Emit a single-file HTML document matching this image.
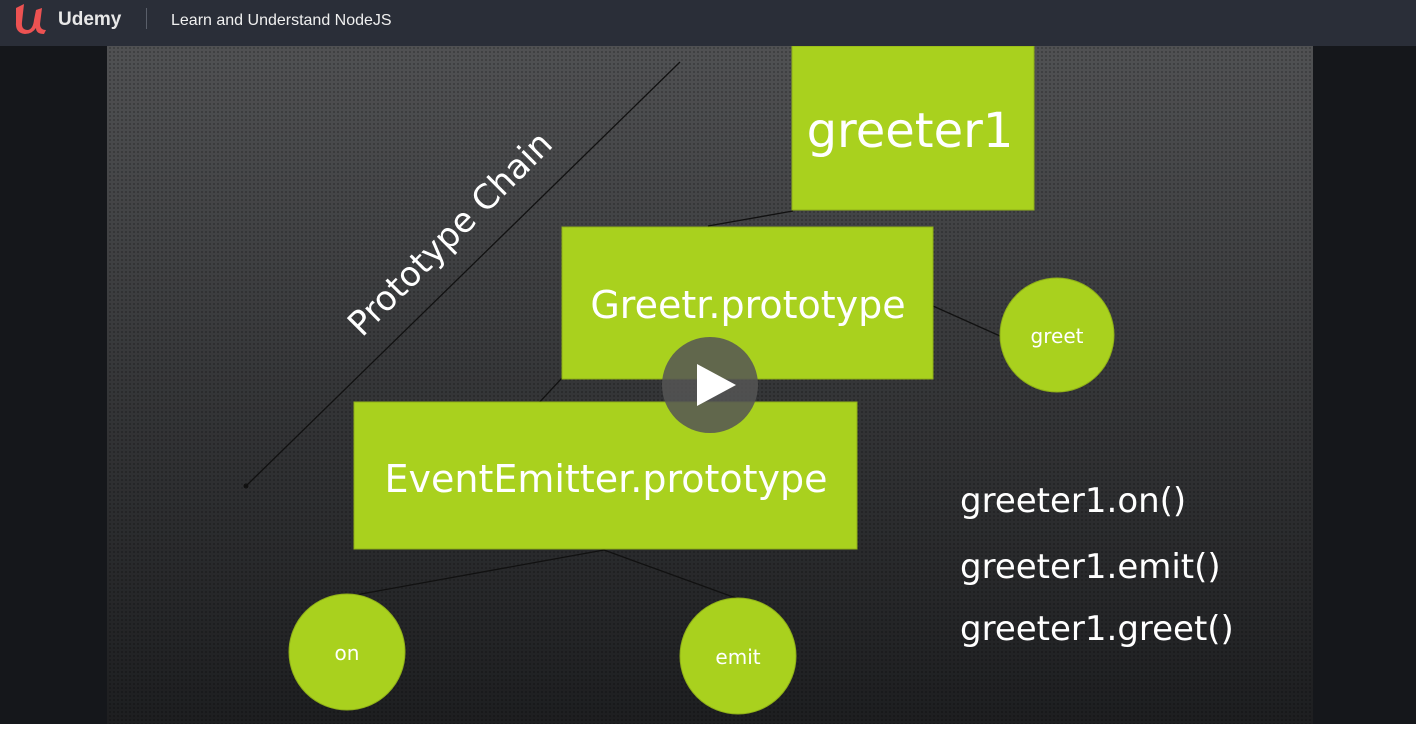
<!DOCTYPE html>
<html><head><style>
html,body{margin:0;padding:0;width:1416px;height:729px;overflow:hidden;background:#fff;font-family:"Liberation Sans",sans-serif}
#hdr{position:absolute;left:0;top:0;width:1416px;height:46px;background:#2a2e38}
#vid{position:absolute;left:0;top:46px;width:1416px;height:678px;background:#15171b}
</style></head><body>
<div id="hdr">
<svg width="1416" height="46" style="position:absolute;left:0;top:0">
<path d="M16 8 L24 4 L22 22 Q21 30 28 30 Q33 29 34 20 L36 10 L42 8 L40 24 Q40 30 46 30 L44 34 Q36 34 36 28 Q32 34 25 34 Q15 33 16 22 Z" fill="#ec5252"/>
<text x="58" y="25" fill="#e8e8e8" font-size="19" font-weight="bold">Udemy</text>
<rect x="146" y="8" width="1" height="21" fill="#5a5f6a"/>
<text x="171" y="25" fill="#f0f0f0" font-size="16">Learn and Understand NodeJS</text>
</svg>
</div>
<div id="vid">
<svg width="1416" height="678" style="position:absolute;left:0;top:0">
<defs>
<linearGradient id="bg" x1="0" y1="0" x2="0" y2="1">
<stop offset="0" stop-color="#505153"/><stop offset="0.5" stop-color="#353638"/><stop offset="1" stop-color="#1d1e20"/>
</linearGradient>
<pattern id="dots" width="4" height="4" patternUnits="userSpaceOnUse"><circle cx="2" cy="2" r="1" fill="#000" opacity="0.25"/></pattern>
</defs>
<rect x="107" y="0" width="1206" height="678" fill="url(#bg)"/>
<rect x="107" y="0" width="1206" height="678" fill="url(#dots)"/>
<g stroke="#111" stroke-width="1.3" fill="none">
<line x1="680" y1="16" x2="246" y2="440"/>
<line x1="793" y1="165" x2="708" y2="180"/>
<line x1="562" y1="332" x2="536" y2="360"/>
<line x1="933" y1="260" x2="1000" y2="290"/>
<line x1="604" y1="504" x2="350" y2="550"/>
<line x1="604" y1="504" x2="736" y2="552"/>
</g>
<circle cx="246" cy="440" r="2.5" fill="#111"/>
<g fill="#a9d11e" stroke="#8fb018" stroke-width="1">
<rect x="792" y="0" width="242" height="164"/>
<rect x="562" y="181" width="371" height="152"/>
<rect x="354" y="356" width="503" height="147"/>
<circle cx="1057" cy="289" r="57"/>
<circle cx="347" cy="606" r="58"/>
<circle cx="738" cy="610" r="58"/>
</g>
<g fill="#fff" font-family="'DejaVu Sans','Liberation Sans',sans-serif" text-anchor="middle">
<text x="910" y="101" font-size="48">greeter1</text>
<text x="748" y="272" font-size="38">Greetr.prototype</text>
<text x="606" y="446" font-size="38">EventEmitter.prototype</text>
<text x="1057" y="297" font-size="20">greet</text>
<text x="347" y="614" font-size="20">on</text>
<text x="738" y="618" font-size="20">emit</text>
</g>
<g fill="#fff" font-family="'DejaVu Sans','Liberation Sans',sans-serif" font-size="34">
<text x="960" y="466">greeter1.on()</text>
<text x="960" y="532">greeter1.emit()</text>
<text x="960" y="594">greeter1.greet()</text>
</g>
<text x="0" y="0" fill="#fff" font-family="'DejaVu Sans','Liberation Sans',sans-serif" font-size="34" transform="translate(362,292) rotate(-45)">Prototype Chain</text>
<circle cx="710" cy="339" r="48" fill="#555" opacity="0.85"/>
<path d="M697 318 L697 360 L736 339 Z" fill="#fff"/>
</svg>
</div>
</body></html>
